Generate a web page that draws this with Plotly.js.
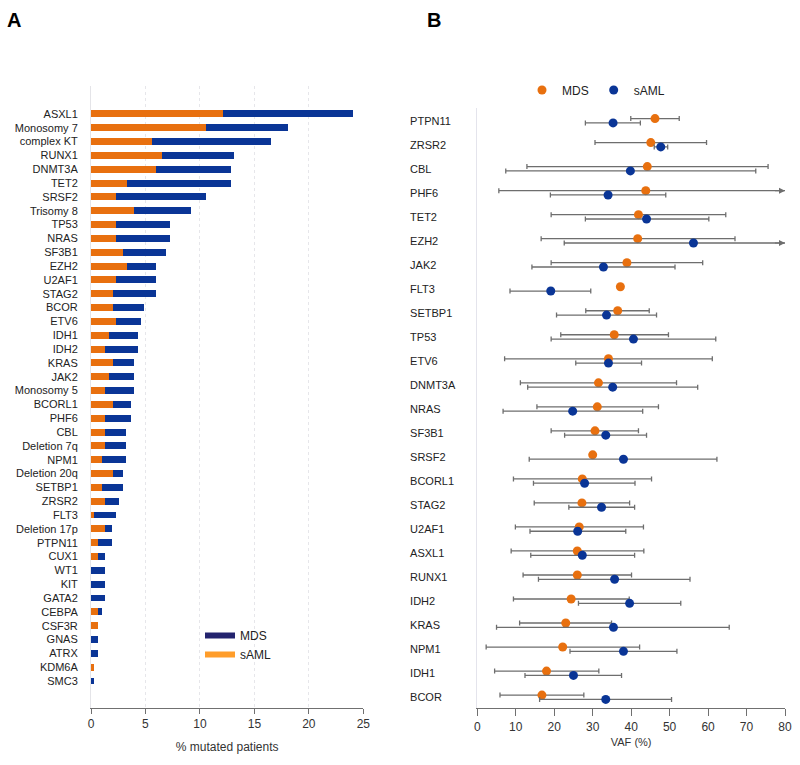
<!DOCTYPE html>
<html><head><meta charset="utf-8">
<script src="https://cdn.plot.ly/plotly-3.0.1.min.js"></script>
<style>html,body{margin:0;padding:0;background:#fff}#chart{width:800px;height:765px}</style>
</head><body><div id="chart"></div>
<script>
// ---------- Panel A data ----------
const genesA = ["ASXL1","Monosomy 7","complex KT","RUNX1","DNMT3A","TET2","SRSF2","Trisomy 8","TP53","NRAS","SF3B1","EZH2","U2AF1","STAG2","BCOR","ETV6","IDH1","IDH2","KRAS","JAK2","Monosomy 5","BCORL1","PHF6","CBL","Deletion 7q","NPM1","Deletion 20q","SETBP1","ZRSR2","FLT3","Deletion 17p","PTPN11","CUX1","WT1","KIT","GATA2","CEBPA","CSF3R","GNAS","ATRX","KDM6A","SMC3"];
// orange segment (legend: sAML)
const pctSAML = [12.15,10.53,5.57,6.55,5.94,3.28,2.27,3.92,2.27,2.27,2.97,3.28,2.27,1.99,1.99,2.27,1.68,1.29,1.99,1.68,1.29,1.99,1.29,1.29,1.29,0.98,1.99,0.98,1.29,0.31,1.29,0.61,0.61,0,0,0,0.61,0.61,0,0,0.31,0];
// navy segment (legend: MDS)
const pctMDS = [11.94,7.59,10.93,6.61,6.92,9.58,8.26,5.26,4.95,4.95,3.95,2.66,3.67,3.95,2.91,2.32,2.60,2.99,1.93,2.24,2.63,1.65,2.35,1.95,1.95,2.26,0.95,1.96,1.31,1.96,0.67,1.35,0.68,1.29,1.29,1.29,0.37,0,0.61,0.61,0,0.31];
const ticksA = [0,5,10,15,20,25];

// ---------- Panel B data ----------
const genesB = ["PTPN11","ZRSR2","CBL","PHF6","TET2","EZH2","JAK2","FLT3","SETBP1","TP53","ETV6","DNMT3A","NRAS","SF3B1","SRSF2","BCORL1","STAG2","U2AF1","ASXL1","RUNX1","IDH2","KRAS","NPM1","IDH1","BCOR"];
const vafMDS   = [46.2,45.1,44.2,43.8,41.9,41.7,38.9,37.2,36.5,35.6,34.1,31.5,31.2,30.6,30.0,27.3,27.2,26.5,26.0,26.0,24.4,23.0,22.2,18.0,16.8];
const vafMDSlo = [39.9,30.6,12.9,5.6,19.2,16.6,19.2,null,28.2,21.7,7.1,11.2,15.5,19.2,null,9.4,14.8,9.9,8.8,11.9,9.4,11.0,2.3,4.5,5.9];
const vafMDShi = [52.5,59.6,75.6,85,64.6,67.0,58.6,null,44.7,49.7,61.1,51.8,47.1,41.9,null,45.3,39.6,43.2,43.3,40.1,39.5,34.9,42.2,31.6,27.7];
const vafAML   = [35.3,47.7,39.8,34.0,44.0,56.2,32.8,19.1,33.6,40.6,34.1,35.2,24.8,33.4,38.0,27.9,32.3,26.1,27.3,35.7,39.6,35.4,38.0,25.0,33.4];
const vafAMLlo = [28.1,46.0,7.4,19.0,28.1,22.6,14.2,8.5,20.6,19.2,25.6,13.1,6.7,22.7,13.5,14.6,23.8,13.7,13.9,15.9,26.3,5.0,24.1,12.4,16.2];
const vafAMLhi = [42.4,49.5,72.4,49.0,60.2,85,51.4,29.5,46.6,62.0,42.7,57.3,43.0,44.0,62.3,41.0,40.9,38.6,40.9,55.3,52.9,65.5,51.9,37.5,50.5];
const ticksB = [0,10,20,30,40,50,60,70,80];
const gridB = [25,50,75];

// ---------- styles ----------
const FONT = "Liberation Sans, Arial, Helvetica, sans-serif";
const ORANGE = "#E8700F", NAVY = "#0A3596";
const ERR = "#6e6e6e";
const off = 0.09;
const xmaxB = 80;

const plus = (v, hi) => v.map((x, i) => hi[i] == null ? null : hi[i] - x);
const minus = (v, lo) => v.map((x, i) => lo[i] == null ? null : x - lo[i]);
const idx = genesB.map((_, i) => i);

const traces = [
  {type:"bar", orientation:"h", x:pctSAML, y:genesA, xaxis:"x", yaxis:"y",
   marker:{color:ORANGE}, showlegend:false, hoverinfo:"x+y"},
  {type:"bar", orientation:"h", x:pctMDS, y:genesA, xaxis:"x", yaxis:"y",
   marker:{color:NAVY}, showlegend:false, hoverinfo:"x+y"},
  // legend-only entries for panel A
  {type:"scatter", mode:"lines", x:[null], y:[null], xaxis:"x", yaxis:"y", name:"MDS",
   line:{color:"#23236e", width:6}, legend:"legend"},
  {type:"scatter", mode:"lines", x:[null], y:[null], xaxis:"x", yaxis:"y", name:"sAML",
   line:{color:"#FF9D2A", width:6}, legend:"legend"},
  // panel B
  {type:"scatter", mode:"markers", name:"MDS", legend:"legend2",
   x:vafMDS, y:idx.map(i => i - off), xaxis:"x2", yaxis:"y2",
   marker:{color:ORANGE, size:9},
   error_x:{type:"data", symmetric:false, array:plus(vafMDS, vafMDShi), arrayminus:minus(vafMDS, vafMDSlo),
            color:ERR, thickness:1.3, width:2.5}},
  {type:"scatter", mode:"markers", name:"sAML", legend:"legend2",
   x:vafAML, y:idx.map(i => i + off), xaxis:"x2", yaxis:"y2",
   marker:{color:NAVY, size:9},
   error_x:{type:"data", symmetric:false, array:plus(vafAML, vafAMLhi), arrayminus:minus(vafAML, vafAMLlo),
            color:ERR, thickness:1.3, width:2.5}}
];

const annotations = [
  {text:"<b>A</b>", xref:"paper", yref:"paper", x:14/800, y:1-20/765, showarrow:false,
   font:{family:FONT, size:20, color:"#000"}, xanchor:"center", yanchor:"middle"},
  {text:"<b>B</b>", xref:"paper", yref:"paper", x:434/800, y:1-20/765, showarrow:false,
   font:{family:FONT, size:20, color:"#000"}, xanchor:"center", yanchor:"middle"}
];
// arrowheads for intervals that run past the axis end
vafMDShi.forEach((h, i) => { if (h != null && h > xmaxB) annotations.push(
  {x:xmaxB, y:i - off, ax:xmaxB - 3, ay:i - off, xref:"x2", yref:"y2", axref:"x2", ayref:"y2",
   text:"", showarrow:true, arrowhead:2, arrowsize:1, arrowwidth:1.2, arrowcolor:ERR, standoff:0}); });
vafAMLhi.forEach((h, i) => { if (h != null && h > xmaxB) annotations.push(
  {x:xmaxB, y:i + off, ax:xmaxB - 3, ay:i + off, xref:"x2", yref:"y2", axref:"x2", ayref:"y2",
   text:"", showarrow:true, arrowhead:2, arrowsize:1, arrowwidth:1.2, arrowcolor:ERR, standoff:0}); });

const layout = {
  width:800, height:765,
  margin:{l:0, r:0, t:0, b:0},
  paper_bgcolor:"#fff", plot_bgcolor:"rgba(0,0,0,0)",
  font:{family:FONT, color:"#222", size:12},
  barmode:"stack", bargap:0.5,
  showlegend:true,
  xaxis:{domain:[91/800, 363.3/800], anchor:"y", range:[0,25], tickvals:ticksA,
    showgrid:true, gridcolor:"#e6e6ea", griddash:"dot", zeroline:false,
    showline:true, linecolor:"#707070", linewidth:1, ticks:"outside", ticklen:5, tickcolor:"#707070",
    tickfont:{size:12, color:"#333"}, automargin:false,
    title:{text:"% mutated patients", font:{size:12, color:"#333"}, standoff:12}},
  yaxis:{domain:[1-707.7/765, 1-86/765], anchor:"x", type:"category",
    categoryorder:"array", categoryarray:genesA, range:[42.93, -2.02],
    showgrid:false, zeroline:false, showline:true, linecolor:"#e4e4e8", ticks:"",
    ticklabelstandoff:10, tickfont:{size:11, color:"#222"}, automargin:false},
  xaxis2:{domain:[477.3/800, 785/800], anchor:"y2", range:[0,xmaxB], tickvals:ticksB,
    showgrid:false, zeroline:false, showline:true, linecolor:"#707070", linewidth:1,
    ticks:"outside", ticklen:7, tickcolor:"#707070", tickfont:{size:12, color:"#333"}, automargin:false,
    title:{text:"VAF (%)", font:{size:11, color:"#333"}, standoff:5}},
  xaxis3:{overlaying:"x2", anchor:"y2", side:"bottom", range:[0,xmaxB], tickvals:gridB,
    showgrid:true, gridcolor:"#c9c9dc", griddash:"dash", showticklabels:false, ticks:"",
    showline:false, zeroline:false, automargin:false},
  yaxis2:{domain:[1-708.3/765, 1-108/765], anchor:"x2", range:[24.46, -0.53],
    tickvals:idx, ticktext:genesB, showgrid:false, zeroline:false,
    showline:true, linecolor:"#e4e4ec", ticks:"", ticklabelposition:"inside", ticklabelstandoff:-68,
    tickfont:{size:11, color:"#222"}, automargin:false},
  legend:{x:200/800, y:1-621/765, xanchor:"left", yanchor:"top", bgcolor:"rgba(0,0,0,0)",
    font:{size:12, color:"#222"}, orientation:"v", traceorder:"normal"},
  legend2:{x:596/800, y:1-90/765, xanchor:"center", yanchor:"middle", orientation:"h",
    bgcolor:"rgba(0,0,0,0)", font:{size:12, color:"#222"}, traceorder:"normal"},
  annotations:annotations
};

Plotly.newPlot("chart", traces, layout, {displayModeBar:false, staticPlot:true});
</script>
</body></html>
